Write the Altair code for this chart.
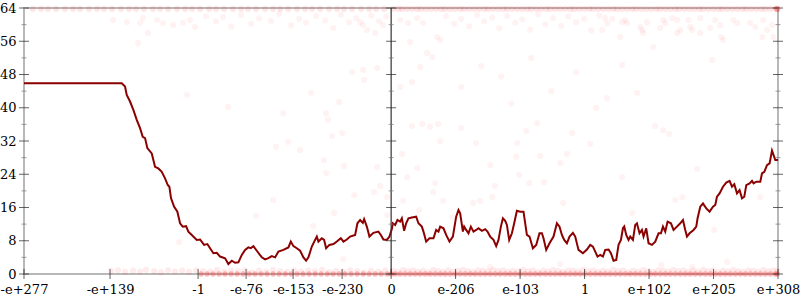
import json
import altair as alt
import pandas as pd

# ---------------- data ----------------
# x is an ordering axis: 0 is the centre (zero), negatives to the left
x_domain = [-367, 386.7]
x_tick_values = [-367, -281, -193, -145, -98, -49, 0, 64.4, 128.9, 193.3, 257.8, 322.2, 386.7]
x_tick_labels = ["-e+277", "-e+139", "-1", "-e-76", "-e-153", "-e-230", "0",
                 "e-206", "e-103", "1", "e+102", "e+205", "e+308"]
y_major = [0, 8, 16, 24, 32, 40, 48, 56, 64]
y_minor = [4, 12, 20, 28, 36, 44, 52, 60]
y_axis_positions = [-367, 0, 386.7]

line_x = [-367, -269.3, -266, -264.3, -261, -257.7, -254.3, -251, -248.3, -246, -243.7, -239.3,
          -236, -232.7, -229.3, -226, -223.3, -221.7, -220, -217, -213.7, -211, -208.3, -205,
          -202.7, -199.3, -194.3, -191, -187, -183.7, -181, -177.7, -174.3, -171, -166, -162.7,
          -159.3, -156, -152.7, -149.3, -146, -142.7, -140.3, -137.7, -134.3, -129.3, -126, -122.7,
          -119.3, -116, -112.7, -107.7, -102.7, -100.3, -97.7, -94.3, -91, -87.7, -85, -82.7,
          -79.3, -76, -74.3, -72.7, -69.3, -67, -65, -61.7, -57.7, -54.3, -50.3, -47.7, -44.3,
          -41, -36, -33.7, -31, -28.3, -27, -24.3, -21.7, -17.7, -12.7, -10.3, -7.7, -4.3, -1.7,
          0.7, 1.7, 4, 6.3, 9, 10.7, 13, 15, 17.3, 20.7, 25, 27.3, 30.7, 32.3, 35, 38.3, 42.3,
          45, 47.3, 49, 52.3, 55, 58.3, 61.7, 65, 67.3, 69, 71.7, 73, 75, 77.3, 79.7, 82.3, 85,
          87.3, 90.7, 94, 96.3, 99, 102.3, 105, 107.3, 109.7, 111.7, 114, 115.7, 118, 120.7, 123,
          125.7, 129, 132.3, 135.7, 138.3, 141.7, 145, 148.3, 150.7, 152.3, 155, 158.3, 162.3,
          165.7, 168.3, 170.7, 173, 175.7, 178.3, 181.7, 184, 187.3, 191.7, 195.7, 199, 201.7,
          204, 206.3, 209, 211.7, 214, 217.3, 219.7, 222.3, 225, 227.3, 229.7, 231.7, 233, 235,
          237.3, 239, 241.7, 244, 245.7, 248.3, 250.7, 252.3, 255, 257.3, 260.7, 264, 267.3,
          269.7, 271.7, 274, 276.3, 279.7, 282.3, 285.7, 289, 291.7, 294, 295.7, 298.3, 302.3,
          305, 306.3, 309, 311.7, 315, 318.3, 321.7, 324, 325.7, 328.3, 331.7, 335, 338.3, 340.7,
          343, 345.7, 348.3, 350.7, 353, 355, 358.3, 360.7, 362.3, 365, 369, 370.7, 373, 375.7,
          378.3, 380.7, 382.3, 384, 386.7]
line_y = [45.9, 45.9, 45.1, 43.1, 41.5, 39.5, 37.1, 35.1, 33.0, 32.7, 30.3, 29.0,
          25.8, 25.4, 24.6, 23.0, 21.4, 21.0, 18.2, 16.2, 15.0, 12.2, 11.4, 11.5,
          10.2, 9.4, 8.2, 8.3, 7.0, 7.2, 6.2, 5.0, 5.1, 4.2, 3.8, 2.4,
          3.2, 2.7, 2.8, 4.6, 5.8, 6.4, 6.2, 6.7, 5.6, 4.0, 3.5, 3.8,
          4.3, 4.0, 5.4, 5.8, 6.4, 7.8, 6.7, 6.2, 5.6, 4.0, 3.2, 4.0,
          6.6, 8.2, 9.0, 7.8, 8.6, 8.2, 6.2, 7.0, 7.2, 7.8, 8.6, 7.8, 8.3,
          9.0, 9.4, 12.2, 13.0, 12.3, 13.2, 11.4, 9.0, 9.9, 10.2, 9.4, 8.3, 8.2, 9.0,
          10.8, 12.2, 11.8, 13.0, 12.6, 13.4, 10.4, 12.2, 13.4, 13.6, 13.8, 12.2, 11.4, 10.2, 7.8, 8.6, 8.6,
          10.6, 10.2, 11.4, 11.0, 9.4, 7.8, 9.0, 13.8, 15.4, 14.6, 10.2, 11.4, 10.6, 9.8, 11.4, 10.2, 10.6,
          11.0, 10.4, 10.8, 10.2, 9.0, 8.2, 6.7, 8.2, 11.4, 13.4, 12.8, 11.8, 8.2, 9.8, 12.2,
          15.2, 15.0, 15.0, 9.4, 9.0, 6.2, 7.0, 9.8, 9.8, 8.6, 5.8, 7.4, 9.0,
          12.2, 11.4, 9.4, 8.2, 7.4, 9.0, 9.9, 9.0, 5.8, 5.0, 5.9, 7.0, 6.6,
          5.4, 4.2, 4.6, 4.2, 5.8, 5.9, 5.0, 3.2, 3.4, 7.0, 8.2, 11.0, 11.4, 9.4,
          8.2, 9.0, 8.2, 11.8, 12.2, 9.8, 10.6, 9.0, 11.0, 7.4, 7.0, 7.8, 9.8,
          9.8, 11.4, 10.2, 12.6, 12.2, 10.6, 11.4, 12.2, 13.0, 10.6, 9.0, 9.8, 10.6,
          11.4, 13.4, 16.2, 17.0, 15.8, 15.0, 16.2, 16.6, 18.6, 19.4, 21.0, 22.0, 22.4, 21.0,
          21.6, 19.4, 20.2, 18.2, 18.6, 21.4, 21.8, 22.4, 21.8, 22.2, 22.2, 24.2, 24.6, 26.2,
          26.6, 29.7, 28.6, 27.4, 27.4]

# faint scattered samples (x, y)
scatter_x = [-278, -264, -251, -248, -243, -253, -234, -228, -218, -208, -201, -196, -204,
             -185, -175, -168, -160, -150, -140, -132, -120, -112, -100, -92, -85, -75, -66,
             -58, -50, -42, -35, -28, -20, -12, -5, -31, -24, -16, -8, -28, -39,
             -163, -80, -108, -65, -63, -52, -27, -14, -103, -115, -91, -67, -59, -49, -47,
             -14, -11, -17, -4, -37, -65, -118, -135, -78, -57, -212, -48, -4,
             9, 17, 26, 32, 46, 49, 19, 36, 41, 29, 21, 9,
             55, 63, 70, 78, 86, 93, 101, 108, 116, 124, 131, 139, 147, 154, 162, 170, 177,
             185, 193, 200, 208, 216,
             214, 221, 231, 234, 236, 249, 251, 252, 256, 269, 272, 274, 281, 286, 289, 297,
             299, 309, 309, 319, 324, 329, 332, 330, 342, 346, 359, 364, 372, 376, 381, 382,
             371, 301, 286, 262, 321, 231, 246, 216, 211, 229,
             21, 31, 39, 47, 70, 49, 11, 26, 16, 44, 42, 12, 28, 52, 61, 82, 89, 101, 104,
             99, 85, 126, 125, 128, 135, 146, 149, 138, 153, 169, 176, 181, 199, 172, 169,
             99, 231, 241, 264, 272, 278, 284, 291, 306, 323, 336, 369, 270, 301,
             70, 90, 110, 140, 160, 185, 205, 120]
scatter_y = [61.1, 60.6, 60.4, 61.6, 58.0, 55.6, 61.1, 60.4, 59.9, 60.4, 61.1, 59.4, 43.1,
             62.0, 60.8, 61.8, 59.5, 62.3, 60.2, 61.5, 60.9, 62.6, 59.8, 61.4, 60.5, 62.1, 61.0,
             59.2, 62.4, 60.6, 61.6, 59.9, 62.2, 60.8, 61.9, 60.6, 58.7, 58.0, 59.9, 49.1, 48.6,
             40.2, 43.6, 38.7, 38.7, 37.1, 41.4, 46.7, 49.6, 31.8, 30.6, 29.8, 27.4, 33.2, 33.9, 26.0,
             25.7, 21.2, 19.7, 18.5, 19.0, 24.3, 17.8, 14.0, 11.5, 14.7, 7.7, 3.6, 14.2,
             61.1, 60.4, 61.6, 60.4, 57.0, 56.3, 55.8, 53.2, 52.2, 49.8, 46.2, 45.0,
             62.0, 60.2, 61.4, 59.6, 62.3, 60.8, 61.7, 59.1, 62.1, 60.5, 61.3, 58.8, 62.5, 60.1, 61.6, 59.7, 62.0,
             60.6, 61.4, 58.6, 62.2, 60.3,
             61.6, 61.4, 60.6, 61.1, 60.4, 59.4, 58.7, 58.0, 60.6, 59.2, 61.1, 60.4, 61.6, 61.1, 58.7, 61.1,
             59.4, 61.6, 58.0, 59.2, 61.1, 59.9, 56.3, 57.0, 61.1, 60.4, 60.4, 59.4, 61.1, 58.7, 59.9, 57.0,
             57.0, 58.7, 58.0, 54.6, 51.5, 50.3, 43.6, 42.3, 58.7, 57.0,
             35.6, 36.1, 35.4, 36.1, 35.1, 32.0, 28.9, 25.5, 23.3, 21.9, 19.7, 17.6, 15.4, 17.6, 13.7, 17.1, 17.6, 18.5, 21.2,
             26.2, 31.5, 31.5, 28.2, 23.8, 34.4, 36.3, 28.4, 21.9, 22.1, 26.7, 28.9, 33.9, 31.3, 17.1, 2.4,
             1.7, 23.3, 14.7, 35.6, 34.6, 33.7, 17.8, 18.5, 25.3, 10.6, 2.9, 18.5, 2.2, 1.7,
             45.0, 50.0, 47.5, 52.0, 44.0, 48.5, 40.0, 41.0]

# samples sitting at the top edge
top_edge_value = 63.8
top_edge_x = [-358, -350, -343, -335, -326, -318, -311, -302, -294, -287, -279, -270, -262, -255,
              -247, -238, -231, -223, -214, -206, -199, -191, -182, -175, -167, -158, -150, -143,
              -135, -126, -118, -111, -103, -94, -86, -79, -71, -62, -54, -47, -39, -30, -22, -15, -7,
              2, 7, 11, 16, 21, 26, 30, 35, 40, 45, 50, 54, 59, 64, 69, 73, 78, 83, 88, 93, 97,
              102, 107, 112, 116, 121, 126, 131, 136, 140, 145, 150, 155, 159, 164, 169, 174, 179,
              183, 188, 193, 198, 202, 207, 212, 217, 222, 226, 231, 236, 241, 245, 250, 255, 260,
              265, 269, 274, 279, 284, 288, 293, 298, 303, 308, 312, 317, 322, 327, 331, 336, 341,
              346, 351, 355, 360, 365, 370, 374, 379, 384, 386, 386, 386, 386]

# samples just above zero
bottom_band_x = [-280, -273, -266, -258, -251, -245, -237, -230, -223, -216, -209, -202, -195, -188,
                 -181, -174, -167, -160, -153, -146, -139, -132, -125, -118, -111, -104, -97, -90,
                 -83, -76, -69, -62, -55, -48, -41, -34, -27, -20, -13, -6,
                 2, 7, 12, 17, 22, 27, 32, 37, 42, 47, 52, 57, 62, 67, 72, 77, 82, 87, 92, 97,
                 102, 107, 112, 117, 122, 127, 132, 137, 142, 147, 152, 157, 162, 167, 172, 177,
                 182, 187, 192, 197, 202, 207, 212, 217, 222, 227, 232, 237, 242, 247, 252, 257,
                 262, 267, 272, 277, 282, 287, 292, 297, 302, 307, 312, 317, 322, 327, 332, 337,
                 342, 347, 352, 357, 362, 367, 372, 377, 382, 386]
bottom_band_y = [0.7, 0.9, 0.5, 0.8, 0.6, 1.0, 0.7, 0.4, 0.9, 0.6, 0.8, 0.5, 0.9, 0.7,
                 0.6, 1.0, 0.5, 0.8, 0.7, 0.9, 0.4, 0.8, 0.6, 1.0, 0.7, 0.5, 0.9, 0.6,
                 0.8, 0.7, 1.0, 0.5, 0.8, 0.6, 0.9, 0.7, 0.4, 0.8, 0.6, 0.9,
                 0.8, 0.5, 1.0, 0.7, 0.9, 0.6, 0.8, 0.4, 1.0, 0.7, 0.5, 0.9, 0.6, 0.8, 1.0, 0.7,
                 0.5, 0.9, 0.8, 0.6, 1.0, 0.7, 0.9, 0.5, 0.8, 0.6, 1.0, 0.7, 0.9, 0.4, 0.8, 0.6,
                 1.0, 0.7, 0.5, 0.9, 0.8, 0.6, 1.0, 0.7, 0.9, 0.5, 0.8, 0.6, 1.0, 0.7, 0.9, 0.4,
                 0.8, 0.6, 1.0, 0.7, 0.5, 0.9, 0.8, 0.6, 1.0, 0.7, 0.9, 0.5, 0.8, 0.6, 1.0, 0.7,
                 0.9, 0.4, 0.8, 0.6, 1.0, 0.7, 0.5, 0.9, 0.8, 0.6, 1.0, 0.7, 0.9, 0.8]

# samples exactly at zero
bottom_edge_value = 0
bottom_edge_x = [-190, -184, -178, -172, -166, -160, -154, -148, -142, -136, -130, -124, -118, -112,
                 -106, -100, -94, -88, -82, -76, -70, -64, -58, -52, -46, -40, -34, -28, -22, -16,
                 -10, -4,
                 0, 4, 9, 14, 19, 24, 29, 34, 39, 44, 49, 54, 59, 64, 69, 74, 79, 84, 89, 94, 99,
                 104, 109, 114, 119, 124, 129, 134, 139, 144, 149, 154, 159, 164, 169, 174, 179, 184,
                 189, 194, 199, 204, 209, 214, 219, 224, 229, 234, 239, 244, 249, 254, 259, 264, 269,
                 274, 279, 284, 289, 294, 299, 304, 309, 314, 319, 324, 329, 334, 339, 344, 349, 354,
                 359, 364, 369, 374, 379, 384, 386]

# ---------------- frames ----------------
line_df = pd.DataFrame({"x": line_x, "y": line_y})
scatter_df = pd.DataFrame({"x": scatter_x, "y": scatter_y})
top_df = pd.DataFrame({"x": top_edge_x, "y": [top_edge_value] * len(top_edge_x)})
band_df = pd.DataFrame({"x": bottom_band_x, "y": bottom_band_y})
edge_df = pd.DataFrame({"x": bottom_edge_x, "y": [bottom_edge_value] * len(bottom_edge_x)})
major_df = pd.DataFrame([{"x": a, "y": v} for a in y_axis_positions for v in y_major])
minor_df = pd.DataFrame([{"x": a, "y": v} for a in y_axis_positions for v in y_minor])
xtick_df = pd.DataFrame({"x": x_tick_values, "y": [0] * len(x_tick_values)})
centre_df = pd.DataFrame({"x": [0], "y": [y_major[0]], "y2": [y_major[-1]]})

label_expr = "{}[indexof({}, datum.value)]".format(json.dumps(x_tick_labels), json.dumps(x_tick_values))

FONT = "DejaVu Serif"

x_axis = alt.Axis(values=x_tick_values, labelExpr=label_expr, ticks=False, domain=False,
                  grid=False, title=None, labelFont=FONT, labelFontSize=13, labelColor="#000",
                  labelPadding=9, labelOverlap=False, labelFlush=False, labelBound=False)
y_axis = alt.Axis(values=y_major, ticks=False, domain=False, grid=False, title=None,
                  labelFont=FONT, labelFontSize=13, labelColor="#000", labelPadding=8)


def X():
    return alt.X("x:Q", scale=alt.Scale(domain=x_domain, nice=False, zero=False), axis=x_axis)


def Y():
    return alt.Y("y:Q", scale=alt.Scale(domain=[0, 64], nice=False, zero=False), axis=y_axis)


scatter = alt.Chart(scatter_df).mark_circle(color="#ff0000", opacity=0.05, size=38).encode(x=X(), y=Y())
top = alt.Chart(top_df).mark_circle(color="#ff0000", opacity=0.1, size=38).encode(x=X(), y=Y())
band = alt.Chart(band_df).mark_circle(color="#ff0000", opacity=0.08, size=38).encode(x=X(), y=Y())
edge = alt.Chart(edge_df).mark_circle(color="#ff0000", opacity=0.28, size=30).encode(x=X(), y=Y())

line = alt.Chart(line_df).mark_line(color="#8b0000", strokeWidth=2).encode(
    x=X(), y=Y(), order=alt.Order("x:Q"))

centre = alt.Chart(centre_df).mark_rule(color="#333333", strokeWidth=1.2).encode(
    x=X(), y=Y(), y2="y2:Q")

major = alt.Chart(major_df).mark_tick(orient="horizontal", size=10, thickness=1, color="#222222").encode(
    x=X(), y=Y())
minor = alt.Chart(minor_df).mark_tick(orient="horizontal", size=5, thickness=1, color="#777777").encode(
    x=X(), y=Y())
xticks = alt.Chart(xtick_df).mark_tick(orient="vertical", size=10, thickness=1, color="#222222").encode(
    x=X(), y=Y())

chart = alt.layer(scatter, top, band, edge, line, centre, major, minor, xticks).properties(
    width=754, height=266,
    padding={"left": 24, "top": 8, "right": 22, "bottom": 26},
    autosize=alt.AutoSizeParams(type="none"),
    background="#ffffff",
).configure_view(stroke="#b8b8b8", strokeWidth=2)

chart.save("out.html", embed_options={"renderer": "svg", "actions": False})
